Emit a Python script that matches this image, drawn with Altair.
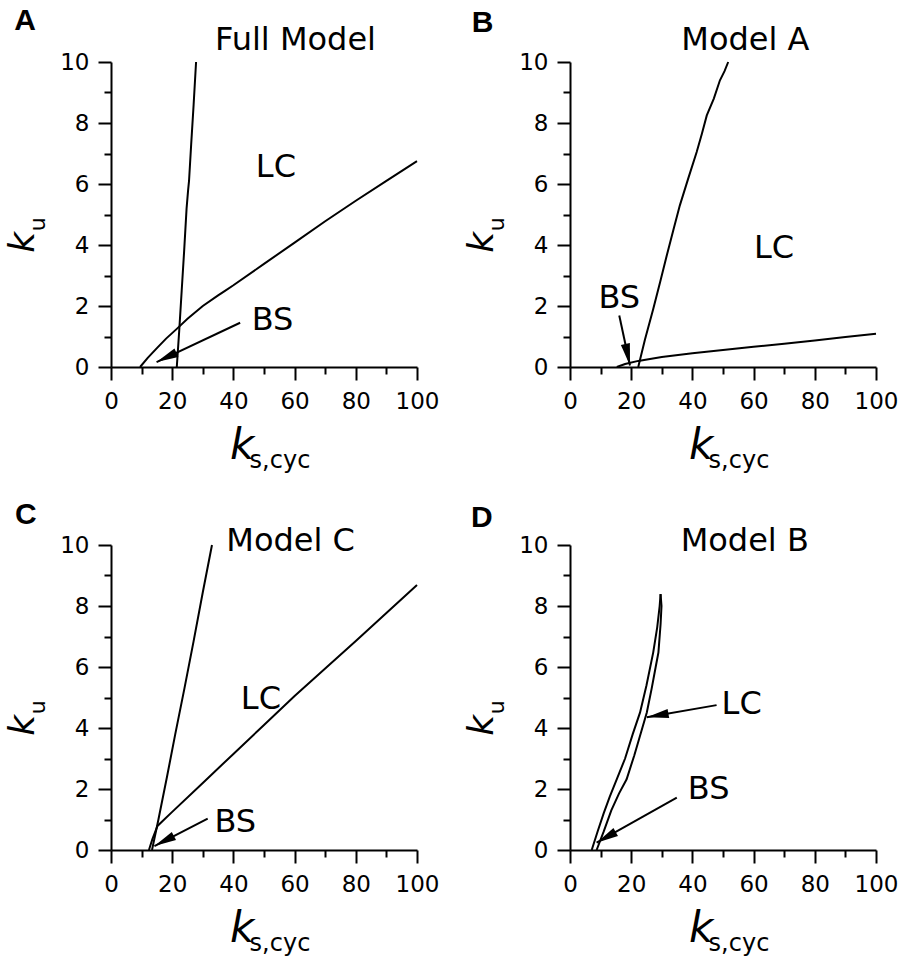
import math
import altair as alt
import pandas as pd

FONT = "DejaVu Sans"
W, H = 306, 305
XS, YS = W / 100.0, H / 10.0  # px per data unit (used for arrowhead angle)

# ---------------- data ----------------
# Panel A : Full Model
A_c1_x = [21.5, 22.3, 23.1, 23.9, 24.7, 25.2, 25.5, 26.2, 27.0, 27.8]
A_c1_y = [0.0, 1.2, 2.5, 3.8, 5.2, 5.8, 6.1, 7.3, 8.6, 10.0]
A_c2_x = [9.5, 12, 15, 18, 21.5, 25, 30, 35, 37, 40, 50, 60, 70, 80, 90, 100]
A_c2_y = [0.0, 0.3, 0.62, 0.93, 1.25, 1.58, 2.0, 2.35, 2.48, 2.68, 3.38, 4.08, 4.78, 5.45, 6.1, 6.75]

# Panel B : Model A
B_c1_x = [22.3, 24.5, 27.2, 29.5, 31.6, 33.8, 35.9, 38.7, 41.4, 43.1, 44.7, 47.0, 49.0, 50.5, 51.7]
B_c1_y = [0.0, 0.9, 1.9, 2.8, 3.65, 4.5, 5.3, 6.2, 7.05, 7.65, 8.25, 8.8, 9.4, 9.7, 10.0]
B_c2_x = [15.3, 18, 22.3, 30, 40, 50, 60, 70, 80, 90, 100]
B_c2_y = [0.0, 0.1, 0.2, 0.33, 0.45, 0.56, 0.66, 0.76, 0.87, 0.98, 1.09]

# Panel C : Model C
C_c1_x = [13.4, 15.5, 18.3, 21.0, 24.0, 27.0, 30.0, 33.0]
C_c1_y = [0.0, 1.0, 2.4, 3.8, 5.3, 6.85, 8.45, 10.0]
C_c2_x = [12.4, 13.5, 15.2, 20, 30, 40, 50, 60, 70, 80, 90, 100]
C_c2_y = [0.0, 0.35, 0.79, 1.25, 2.2, 3.15, 4.1, 5.05, 5.95, 6.85, 7.77, 8.69]

# Panel D : Model B (loop)
D_c1_x = [7.1, 9.0, 11.0, 13.0, 15.3, 18.0, 20.5, 22.9, 25.0, 27.2, 28.5, 29.3, 29.6]
D_c1_y = [0.0, 0.6, 1.2, 1.75, 2.32, 3.0, 3.8, 4.51, 5.4, 6.48, 7.3, 8.0, 8.39]
D_c2_x = [8.7, 11.0, 13.5, 16.0, 18.5, 21.0, 23.2, 25.1, 26.7, 28.0, 28.9, 29.6, 29.9, 29.6]
D_c2_y = [0.0, 0.6, 1.3, 1.85, 2.32, 3.1, 3.85, 4.51, 5.3, 6.0, 6.48, 7.4, 8.0, 8.39]

# annotations: label, x, y
A_text = [("Full Model", 60.3, 10.71), ("LC", 53.9, 6.56), ("BS", 52.8, 1.55)]
B_text = [("Model A", 57.3, 10.72), ("LC", 66.7, 3.9), ("BS", 16.1, 2.27)]
C_text = [("Model C", 58.7, 10.14), ("LC", 49.0, 4.95), ("BS", 40.6, 0.93)]
D_text = [("Model B", 57.1, 10.13), ("LC", 56.1, 4.78), ("BS", 45.3, 1.99)]

# arrows: from (x, y) to tip (x, y)
A_arrows = [(42.2, 1.45, 14.9, 0.16)]
B_arrows = [(16.1, 1.69, 19.6, 0.05)]
C_arrows = [(31.6, 1.03, 14.2, 0.13)]
D_arrows = [(47.9, 4.75, 25.1, 4.35), (34.9, 1.72, 8.7, 0.24)]

LETTERS = [("A", -28.1, 11.34), ("B", -28.6, 11.28), ("C", -27.8, 10.99), ("D", -28.8, 10.89)]

X_MAJOR = [0, 20, 40, 60, 80, 100]
X_MINOR = [10, 30, 50, 70, 90]
Y_MAJOR = [0, 2, 4, 6, 8, 10]
Y_MINOR = [1, 3, 5, 7, 9]

ARROW_PATH = "M 0 0 L -2 -0.42 L -2 0.42 Z"

xscale = alt.Scale(domain=[0, 100], nice=False, zero=False)
yscale = alt.Scale(domain=[0, 10], nice=False, zero=False)

axis_common = dict(
    grid=False, title=None, domainColor="black", domainWidth=2,
    tickColor="black", tickWidth=2, labelColor="black",
    labelFont=FONT, labelFontSize=23, labelFlush=False, labelOverlap=False,
)
x_major = alt.Axis(values=X_MAJOR, orient="bottom", tickSize=13, labelPadding=10, **axis_common)
y_major = alt.Axis(values=Y_MAJOR, orient="left", tickSize=13, labelPadding=9, **axis_common)
x_minor = alt.Axis(values=X_MINOR, orient="bottom", tickSize=7, labels=False, domain=False,
                   grid=False, title=None, tickColor="black", tickWidth=2)
y_minor = alt.Axis(values=Y_MINOR, orient="left", tickSize=7, labels=False, domain=False,
                   grid=False, title=None, tickColor="black", tickWidth=2)


def enc(xf="x:Q", yf="y:Q"):
    return dict(x=alt.X(xf, scale=xscale, axis=None), y=alt.Y(yf, scale=yscale, axis=None))


def panel(curves, texts, arrows, letter):
    rows = []
    for cid, (xs, ys) in enumerate(curves):
        for i, (x, y) in enumerate(zip(xs, ys)):
            rows.append({"cid": cid, "i": i, "x": x, "y": y})
    cdf = pd.DataFrame(rows)
    lines = alt.Chart(cdf).mark_line(color="black", strokeWidth=2).encode(
        x=alt.X("x:Q", scale=xscale, axis=x_major),
        y=alt.Y("y:Q", scale=yscale, axis=y_major),
        detail="cid:N",
        order="i:Q",
    )

    adf = pd.DataFrame([
        {"x": a[0], "y": a[1], "x2": a[2], "y2": a[3],
         "ang": math.degrees(math.atan2(-(a[3] - a[1]) * YS, (a[2] - a[0]) * XS)) % 360}
        for a in arrows
    ])
    shafts = alt.Chart(adf).mark_rule(color="black", strokeWidth=2).encode(
        x=alt.X("x:Q", scale=xscale, axis=x_minor),
        y=alt.Y("y:Q", scale=yscale, axis=y_minor),
        x2="x2:Q", y2="y2:Q",
    )
    heads = alt.Chart(adf).mark_point(
        shape=ARROW_PATH, filled=True, size=480, color="black", opacity=1, strokeWidth=0
    ).encode(angle=alt.Angle("ang:Q", scale=None), **enc("x2:Q", "y2:Q"))

    tdf = pd.DataFrame([{"label": t[0], "x": t[1], "y": t[2]} for t in texts])
    labels = alt.Chart(tdf).mark_text(
        font=FONT, fontSize=32, color="black", align="center", baseline="middle"
    ).encode(text="label:N", **enc())

    ldf = pd.DataFrame([{"label": letter[0], "x": letter[1], "y": letter[2]}])
    let = alt.Chart(ldf).mark_text(
        font="Liberation Sans", fontSize=30, fontWeight="bold", color="black",
        align="center", baseline="middle",
    ).encode(text="label:N", **enc())

    # axis titles: k_{s,cyc} below, k_u at left
    kx = alt.Chart(pd.DataFrame([{"t": "k", "x": 38.9, "y": -3.0}])).mark_text(
        font=FONT, fontSize=42, fontStyle="italic", color="black",
        align="left", baseline="alphabetic",
    ).encode(text="t:N", **enc())
    kxs = alt.Chart(pd.DataFrame([{"t": "s,cyc", "x": 45.3, "y": -3.3}])).mark_text(
        font=FONT, fontSize=24, color="black", align="left", baseline="alphabetic",
    ).encode(text="t:N", **enc())
    ky = alt.Chart(pd.DataFrame([{"t": "k", "x": -25.3, "y": 3.75}])).mark_text(
        font=FONT, fontSize=36, fontStyle="italic", color="black",
        align="left", baseline="alphabetic", angle=270,
    ).encode(text="t:N", **enc())
    kys = alt.Chart(pd.DataFrame([{"t": "u", "x": -21.6, "y": 4.45}])).mark_text(
        font=FONT, fontSize=22, color="black", align="left", baseline="alphabetic", angle=270,
    ).encode(text="t:N", **enc())

    return alt.layer(lines, shafts, heads, labels, let, kx, kxs, ky, kys).resolve_axis(
        x="independent", y="independent"
    ).properties(width=W, height=H)


pA = panel([(A_c1_x, A_c1_y), (A_c2_x, A_c2_y)], A_text, A_arrows, LETTERS[0])
pB = panel([(B_c1_x, B_c1_y), (B_c2_x, B_c2_y)], B_text, B_arrows, LETTERS[1])
pC = panel([(C_c1_x, C_c1_y), (C_c2_x, C_c2_y)], C_text, C_arrows, LETTERS[2])
pD = panel([(D_c1_x, D_c1_y), (D_c2_x, D_c2_y)], D_text, D_arrows, LETTERS[3])

chart = alt.concat(
    pA, pB, pC, pD, columns=2,
    spacing={"row": 178, "column": 153}, bounds="flush",
).properties(
    padding={"left": 4, "top": 6, "right": 0, "bottom": 0},
    background="white",
).configure_view(stroke=None)

chart.save("out.html", embed_options={"renderer": "svg", "actions": False})
